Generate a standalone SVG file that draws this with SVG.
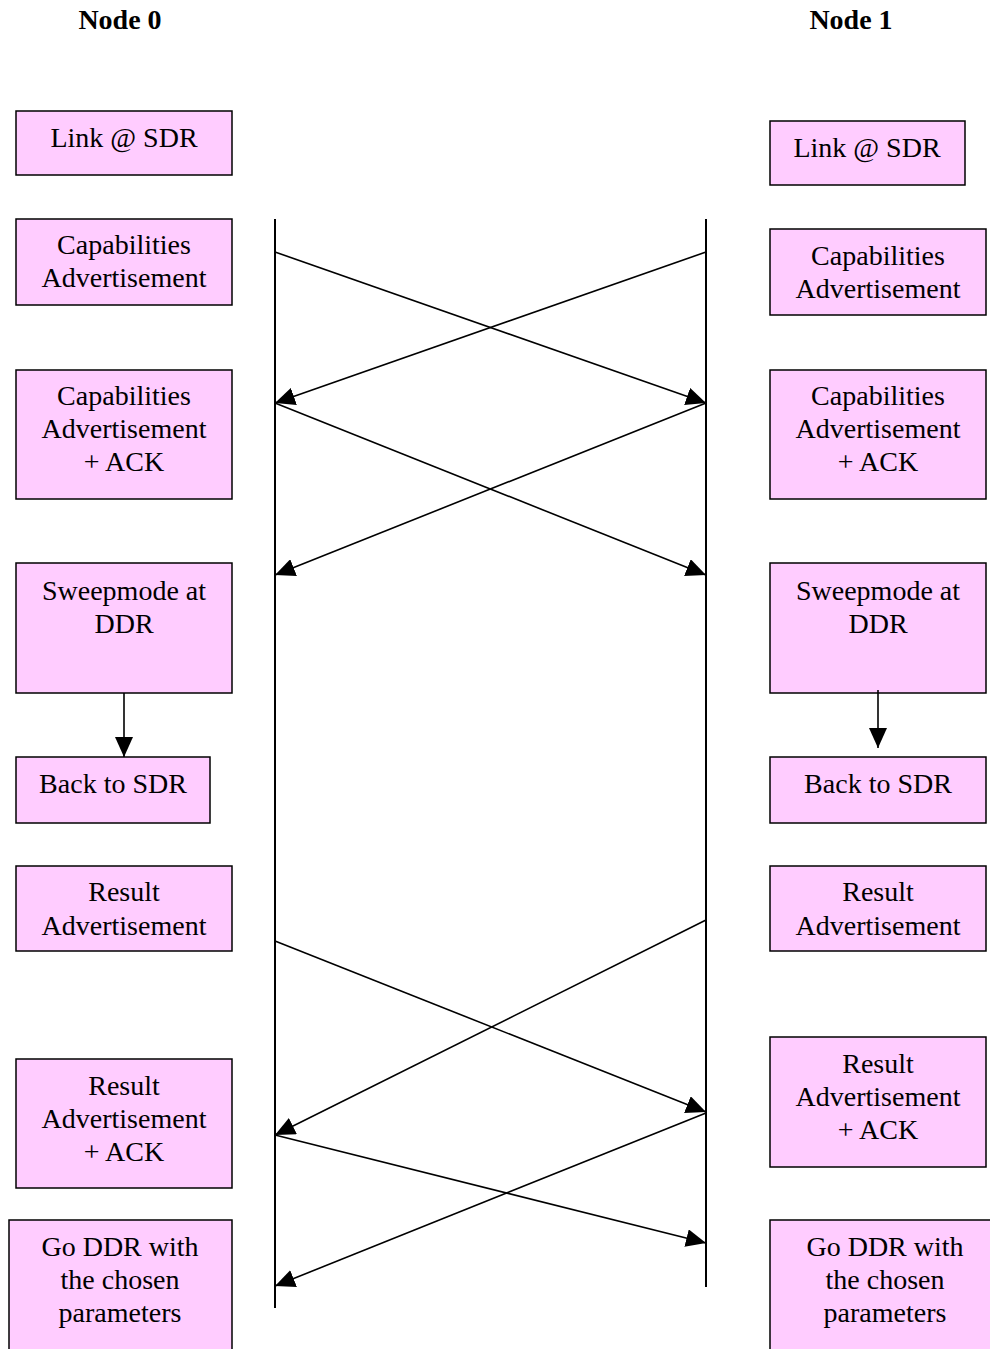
<svg xmlns="http://www.w3.org/2000/svg" width="990" height="1349" viewBox="0 0 990 1349">
  <style>
    .box { fill: #FFCCFF; stroke: #000; stroke-width: 1.5; }
    .lbl { font-family: "Liberation Serif", "Times New Roman", serif; font-size: 28px; fill: #000; text-anchor: middle; }
    .hdr { font-family: "Liberation Serif", "Times New Roman", serif; font-size: 28px; font-weight: bold; fill: #000; text-anchor: middle; }
    .life { stroke: #000; stroke-width: 2; fill: none; }
    .msg { stroke: #000; stroke-width: 1.6; fill: none; marker-end: url(#head); }
  </style>
  <defs>
    <marker id="head" viewBox="0 0 20 18" refX="20" refY="9" markerWidth="20" markerHeight="18" markerUnits="userSpaceOnUse" orient="auto">
      <path d="M0,0 L20,9 L0,18 Z" fill="#000"/>
    </marker>
  </defs>
  <rect width="990" height="1349" fill="#fff"/>

  <!-- column headers -->
  <text class="hdr" x="120" y="29">Node 0</text>
  <text class="hdr" x="851" y="29">Node 1</text>

  <!-- Node 0 states -->
  <g id="n0-link">
    <rect class="box" x="16" y="111" width="216" height="64"/>
    <text class="lbl" x="124" y="147">Link @ SDR</text>
  </g>
  <g id="n0-cap">
    <rect class="box" x="16" y="219" width="216" height="86"/>
    <text class="lbl" x="124" y="254">Capabilities</text>
    <text class="lbl" x="124" y="287">Advertisement</text>
  </g>
  <g id="n0-capack">
    <rect class="box" x="16" y="370" width="216" height="129"/>
    <text class="lbl" x="124" y="405">Capabilities</text>
    <text class="lbl" x="124" y="438">Advertisement</text>
    <text class="lbl" x="124" y="471">+ ACK</text>
  </g>
  <g id="n0-sweep">
    <rect class="box" x="16" y="563" width="216" height="130"/>
    <text class="lbl" x="124" y="600">Sweepmode at</text>
    <text class="lbl" x="124" y="633">DDR</text>
  </g>
  <g id="n0-back">
    <rect class="box" x="16" y="757" width="194" height="66"/>
    <text class="lbl" x="113" y="793">Back to SDR</text>
  </g>
  <g id="n0-result">
    <rect class="box" x="16" y="866" width="216" height="85"/>
    <text class="lbl" x="124" y="901">Result</text>
    <text class="lbl" x="124" y="935">Advertisement</text>
  </g>
  <g id="n0-resultack">
    <rect class="box" x="16" y="1059" width="216" height="129"/>
    <text class="lbl" x="124" y="1095">Result</text>
    <text class="lbl" x="124" y="1128">Advertisement</text>
    <text class="lbl" x="124" y="1161">+ ACK</text>
  </g>
  <g id="n0-goddr">
    <rect class="box" x="9" y="1220" width="223" height="140"/>
    <text class="lbl" x="120" y="1256">Go DDR with</text>
    <text class="lbl" x="120" y="1289">the chosen</text>
    <text class="lbl" x="120" y="1322">parameters</text>
  </g>

  <!-- Node 1 states -->
  <g id="n1-link">
    <rect class="box" x="770" y="121" width="195" height="64"/>
    <text class="lbl" x="867" y="157">Link @ SDR</text>
  </g>
  <g id="n1-cap">
    <rect class="box" x="770" y="229" width="216" height="86"/>
    <text class="lbl" x="878" y="265">Capabilities</text>
    <text class="lbl" x="878" y="298">Advertisement</text>
  </g>
  <g id="n1-capack">
    <rect class="box" x="770" y="370" width="216" height="129"/>
    <text class="lbl" x="878" y="405">Capabilities</text>
    <text class="lbl" x="878" y="438">Advertisement</text>
    <text class="lbl" x="878" y="471">+ ACK</text>
  </g>
  <g id="n1-sweep">
    <rect class="box" x="770" y="563" width="216" height="130"/>
    <text class="lbl" x="878" y="600">Sweepmode at</text>
    <text class="lbl" x="878" y="633">DDR</text>
  </g>
  <g id="n1-back">
    <rect class="box" x="770" y="757" width="216" height="66"/>
    <text class="lbl" x="878" y="793">Back to SDR</text>
  </g>
  <g id="n1-result">
    <rect class="box" x="770" y="866" width="216" height="85"/>
    <text class="lbl" x="878" y="901">Result</text>
    <text class="lbl" x="878" y="935">Advertisement</text>
  </g>
  <g id="n1-resultack">
    <rect class="box" x="770" y="1037" width="216" height="130"/>
    <text class="lbl" x="878" y="1073">Result</text>
    <text class="lbl" x="878" y="1106">Advertisement</text>
    <text class="lbl" x="878" y="1139">+ ACK</text>
  </g>
  <g id="n1-goddr">
    <rect class="box" x="770" y="1220" width="240" height="140"/>
    <text class="lbl" x="885" y="1256">Go DDR with</text>
    <text class="lbl" x="885" y="1289">the chosen</text>
    <text class="lbl" x="885" y="1322">parameters</text>
  </g>

  <!-- lifelines and messages -->
  <g id="connectors">
    <line class="life" x1="275" y1="219" x2="275" y2="1308"/>
    <line class="life" x1="706" y1="219" x2="706" y2="1287"/>

    <line class="msg" x1="275" y1="252" x2="706" y2="403"/>
    <line class="msg" x1="706" y1="252" x2="275" y2="403"/>
    <line class="msg" x1="275" y1="403" x2="706" y2="575"/>
    <line class="msg" x1="706" y1="403" x2="275" y2="575"/>

    <line class="msg" x1="275" y1="941" x2="706" y2="1112"/>
    <line class="msg" x1="706" y1="920" x2="275" y2="1135"/>
    <line class="msg" x1="275" y1="1135" x2="706" y2="1243"/>
    <line class="msg" x1="706" y1="1113" x2="275" y2="1286"/>

    <line class="msg" x1="124" y1="693" x2="124" y2="757"/>
    <line class="msg" x1="878" y1="690" x2="878" y2="748"/>
  </g>
</svg>
